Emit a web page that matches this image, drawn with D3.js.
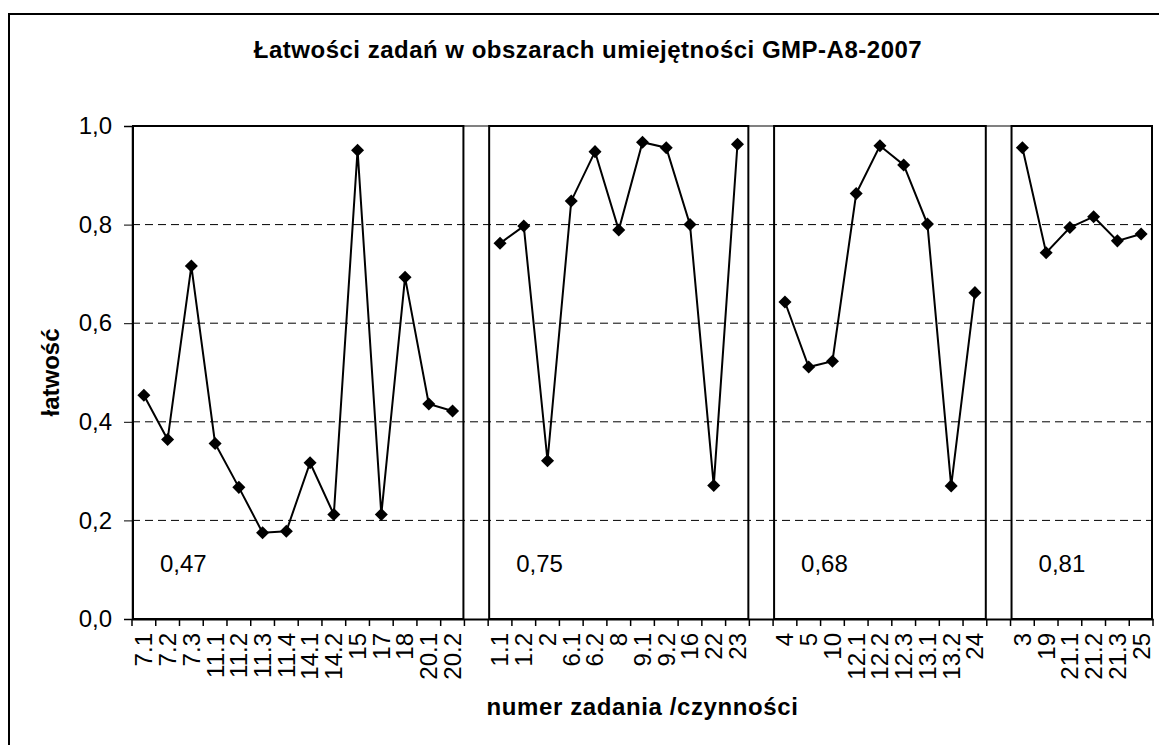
<!DOCTYPE html>
<html>
<head>
<meta charset="utf-8">
<script src="https://cdn.jsdelivr.net/npm/d3@7"></script>
<style>
  body { margin: 0; background: #fff; }
  text { font-family: "Liberation Sans", Arial, sans-serif; }
</style>
</head>
<body>
<div id="vis-container"></div>
<script>
// Task numbers and ease values, one pair of arrays per skill area
const tasks1 = ["7.1", "7.2", "7.3", "11.1", "11.2", "11.3", "11.4", "14.1", "14.2", "15", "17", "18", "20.1", "20.2"];
const ease1 = [0.454, 0.364, 0.716, 0.356, 0.267, 0.175, 0.178, 0.317, 0.212, 0.951, 0.212, 0.693, 0.436, 0.422];

const tasks2 = ["1.1", "1.2", "2", "6.1", "6.2", "8", "9.1", "9.2", "16", "22", "23"];
const ease2 = [0.762, 0.797, 0.321, 0.848, 0.948, 0.789, 0.967, 0.956, 0.800, 0.271, 0.963];

const tasks3 = ["4", "5", "10", "12.1", "12.2", "12.3", "13.1", "13.2", "24"];
const ease3 = [0.643, 0.511, 0.523, 0.863, 0.960, 0.921, 0.801, 0.270, 0.662];

const tasks4 = ["3", "19", "21.1", "21.2", "21.3", "25"];
const ease4 = [0.956, 0.743, 0.794, 0.816, 0.767, 0.781];

// mean ease of each area
const areaMeans = [0.47, 0.75, 0.68, 0.81];

const yTicks = [0, 0.2, 0.4, 0.6, 0.8, 1.0];

const width = 1159;
const height = 745;
const margin = { top: 126, right: 6, bottom: 126, left: 132 };

const groups = [
  { tasks: tasks1, ease: ease1, mean: areaMeans[0] },
  { tasks: tasks2, ease: ease2, mean: areaMeans[1] },
  { tasks: tasks3, ease: ease3, mean: areaMeans[2] },
  { tasks: tasks4, ease: ease4, mean: areaMeans[3] }
];

// category list with one empty slot between areas
let domain = [];
groups.forEach((g, i) => {
  if (i > 0) domain.push("gap" + i);
  domain = domain.concat(g.tasks);
});

const comma = (v) => d3.format(".1f")(v).replace(".", ",");

const svg = d3.select("#vis-container")
  .append("svg")
  .attr("width", width)
  .attr("height", height);

svg.append("rect")
  .attr("width", width)
  .attr("height", height)
  .attr("fill", "white");

// outer chart border
svg.append("rect")
  .attr("x", 9)
  .attr("y", 14)
  .attr("width", width + 20)
  .attr("height", height + 20)
  .attr("fill", "none")
  .attr("stroke", "black")
  .attr("stroke-width", 2);

const xScale = d3.scaleBand()
  .domain(domain)
  .range([margin.left, width - margin.right])
  .padding(0);

const yScale = d3.scaleLinear()
  .domain([0, 1])
  .range([height - margin.bottom, margin.top]);

const bw = xScale.bandwidth();

// gridlines
svg.append("g")
  .selectAll("line")
  .data(yTicks.filter(d => d > 0 && d < 1))
  .enter()
  .append("line")
  .attr("x1", margin.left)
  .attr("x2", width - margin.right)
  .attr("y1", d => yScale(d))
  .attr("y2", d => yScale(d))
  .attr("stroke", "black")
  .attr("stroke-width", 1)
  .attr("stroke-dasharray", "8,5");

// top line at 1,0
svg.append("line")
  .attr("x1", margin.left)
  .attr("x2", width - margin.right)
  .attr("y1", yScale(1))
  .attr("y2", yScale(1))
  .attr("stroke", "#808080")
  .attr("stroke-width", 2);

// boxes around each area + mean label
groups.forEach((g) => {
  const x0 = xScale(g.tasks[0]);
  const x1 = xScale(g.tasks[g.tasks.length - 1]) + bw;
  svg.append("rect")
    .attr("x", x0 + 1)
    .attr("y", yScale(1))
    .attr("width", x1 - x0 - 2)
    .attr("height", yScale(0) - yScale(1))
    .attr("fill", "none")
    .attr("stroke", "black")
    .attr("stroke-width", 2);

  svg.append("text")
    .attr("x", x0 + 28)
    .attr("y", yScale(0.095))
    .attr("font-size", "24px")
    .attr("fill", "black")
    .text(d3.format(".2f")(g.mean).replace(".", ","));
});

// y axis
const yAxis = svg.append("g")
  .attr("transform", `translate(${margin.left},0)`)
  .call(d3.axisLeft(yScale).tickValues(yTicks).tickFormat(comma).tickSize(8).tickPadding(12));
yAxis.select(".domain").attr("stroke", "black").attr("stroke-width", 1.5);
yAxis.selectAll("text").attr("font-size", "24px").attr("font-family", "Liberation Sans, Arial, sans-serif").attr("fill", "black");

// x axis
const xAxis = svg.append("g")
  .attr("transform", `translate(0,${yScale(0)})`)
  .call(d3.axisBottom(xScale).tickSize(0).tickFormat(d => d.startsWith("gap") ? "" : d));
xAxis.select(".domain").attr("stroke", "black").attr("stroke-width", 2);
xAxis.selectAll("text")
  .attr("font-size", "24px")
  .attr("font-family", "Liberation Sans, Arial, sans-serif")
  .attr("fill", "black")
  .attr("transform", "rotate(-90)")
  .attr("text-anchor", "end")
  .attr("x", -14)
  .attr("y", 0)
  .attr("dy", "0.35em");

// tick marks between categories
xAxis.append("g")
  .selectAll("line")
  .data(domain.map(d => xScale(d)).concat([xScale(domain[domain.length - 1]) + bw]))
  .enter()
  .append("line")
  .attr("x1", d => d)
  .attr("x2", d => d)
  .attr("y1", 0)
  .attr("y2", 7)
  .attr("stroke", "black")
  .attr("stroke-width", 1.5);

// lines and markers per area
const line = d3.line()
  .x((d) => xScale(d.task) + bw / 2)
  .y((d) => yScale(d.value));

const marker = d3.symbol().type(d3.symbolSquare).size(85);

groups.forEach((g) => {
  const pts = g.tasks.map((t, i) => ({ task: t, value: g.ease[i] }));
  svg.append("path")
    .datum(pts)
    .attr("d", line)
    .attr("fill", "none")
    .attr("stroke", "black")
    .attr("stroke-width", 2);

  svg.append("g")
    .selectAll("path")
    .data(pts)
    .enter()
    .append("path")
    .attr("d", marker)
    .attr("transform", (d) => `translate(${xScale(d.task) + bw / 2},${yScale(d.value)}) rotate(45)`)
    .attr("fill", "black");
});

// titles
svg.append("text")
  .attr("x", 588)
  .attr("y", 58)
  .attr("text-anchor", "middle")
  .attr("font-size", "24px")
  .attr("font-weight", "bold")
  .attr("letter-spacing", "0.5px")
  .text("Łatwości zadań w obszarach umiejętności GMP-A8-2007");

svg.append("text")
  .attr("x", (margin.left + width - margin.right) / 2)
  .attr("y", 715)
  .attr("text-anchor", "middle")
  .attr("font-size", "24px")
  .attr("font-weight", "bold")
  .attr("letter-spacing", "0.6px")
  .text("numer zadania /czynności");

svg.append("text")
  .attr("transform", `translate(51,${(yScale(0) + yScale(1)) / 2}) rotate(-90)`)
  .attr("text-anchor", "middle")
  .attr("dy", "0.35em")
  .attr("font-size", "24px")
  .attr("font-weight", "bold")
  .text("łatwość");
</script>
</body>
</html>
